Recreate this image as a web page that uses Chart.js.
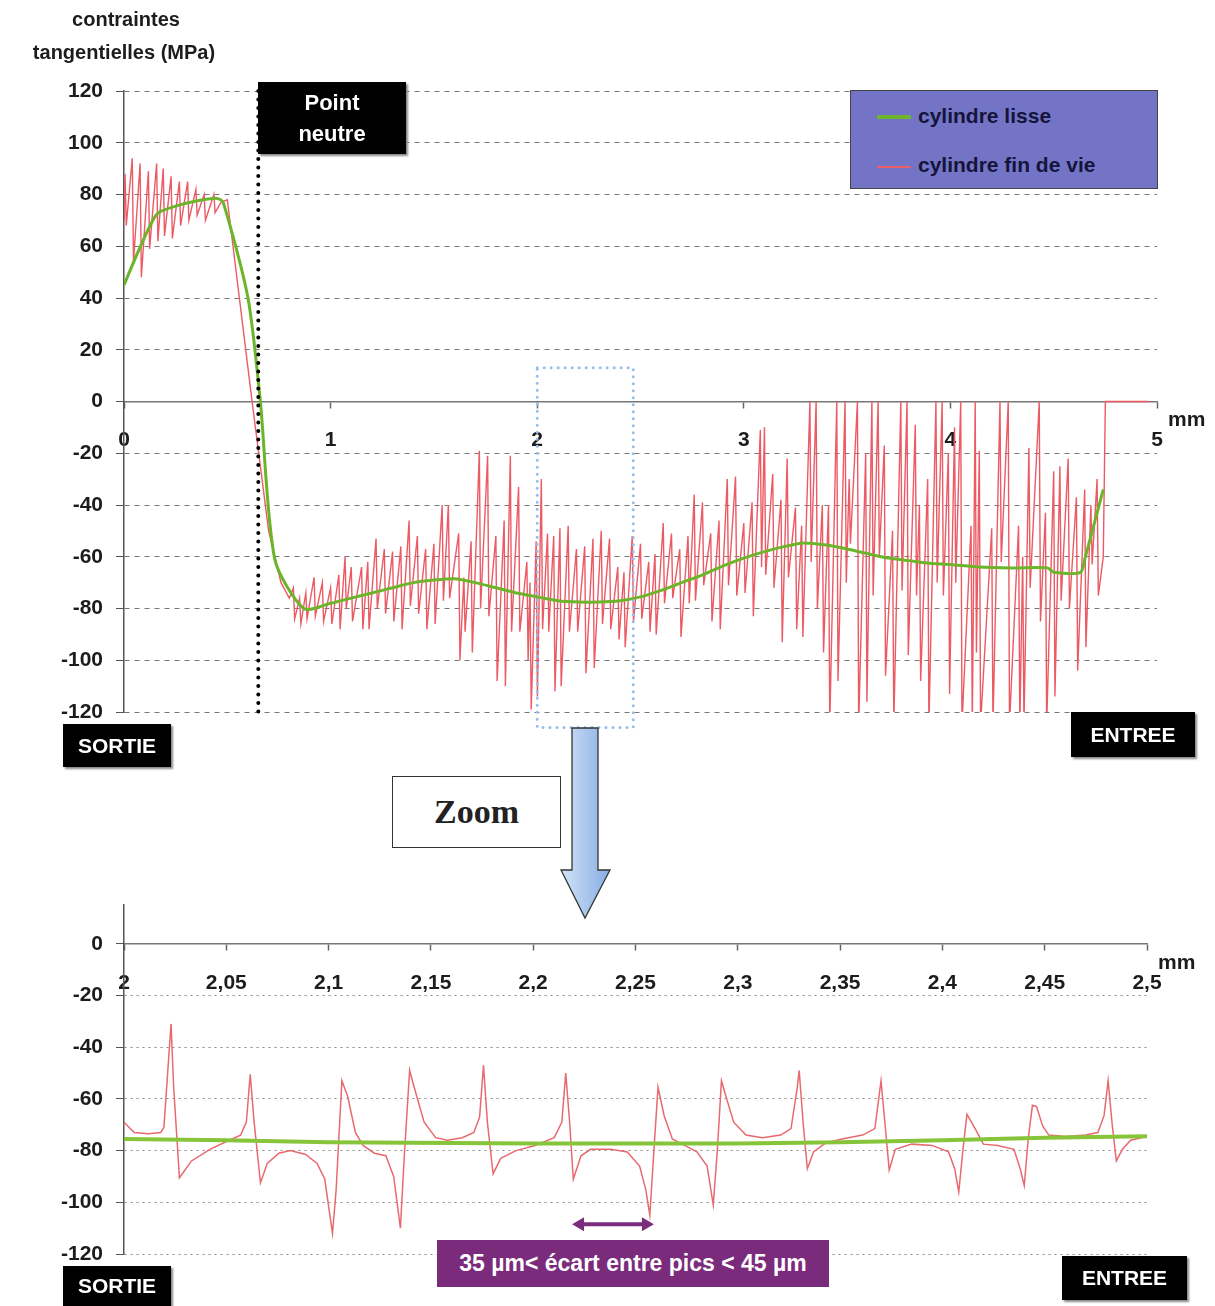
<!DOCTYPE html>
<html lang="fr">
<head>
<meta charset="utf-8">
<title>Contraintes tangentielles</title>
<script src="https://cdn.jsdelivr.net/npm/chart.js@4.4.1/dist/chart.umd.min.js"></script>
<style>
  html, body { margin: 0; padding: 0; background: #fff; }
  body { width: 1215px; height: 1306px; position: relative; overflow: hidden; font-family: "Liberation Sans", Arial, sans-serif; }
  canvas { position: absolute; left: 0; }
  #haut { top: 0; }
  #bas { top: 860px; }
  .txt { position: absolute; font-weight: bold; color: #1c1c1c; white-space: nowrap; }
  .boite { position: absolute; background: #000; color: #fff; font-weight: bold; display: flex; align-items: center; justify-content: center; text-align: center; box-shadow: 2px 2px 2px #888; }
  #legende { position: absolute; left: 850px; top: 90px; width: 306px; height: 97px; background: #7474c6; border: 1px solid #444; }
  #legende .ligne { position: absolute; left: 26px; width: 34px; }
  #legende span { position: absolute; left: 67px; font-size: 21px; font-weight: bold; color: #14143a; }
</style>
</head>
<body>
<canvas id="haut" width="1215" height="780"></canvas>
<canvas id="bas" width="1215" height="446"></canvas>

<div class="txt" style="left:26px;top:8px;width:200px;text-align:center;font-size:20px;">contraintes</div>
<div class="txt" style="left:0;top:41px;width:248px;text-align:center;font-size:20px;">tangentielles (MPa)</div>
<div class="txt" style="left:1168px;top:407px;font-size:21px;">mm</div>
<div class="txt" style="left:1158px;top:950px;font-size:21px;">mm</div>

<div class="boite" style="left:258px;top:82px;width:148px;height:72px;font-size:22px;line-height:31px;">Point<br>neutre</div>
<div class="boite" style="left:63px;top:724px;width:108px;height:43px;font-size:21px;">SORTIE</div>
<div class="boite" style="left:1071px;top:712px;width:124px;height:45px;font-size:21px;">ENTREE</div>
<div class="boite" style="left:63px;top:1266px;width:108px;height:40px;font-size:21px;">SORTIE</div>
<div class="boite" style="left:1062px;top:1256px;width:125px;height:44px;font-size:21px;">ENTREE</div>
<div class="boite" style="left:437px;top:1240px;width:392px;height:47px;background:#7a2b7c;font-family:'Liberation Sans Narrow','Liberation Sans',Arial,sans-serif;font-size:23px;box-shadow:none;">35 µm&lt; écart entre pics &lt; 45 µm</div>

<div style="position:absolute;left:392px;top:776px;width:167px;height:70px;border:1.5px solid #333;background:#fff;display:flex;align-items:center;justify-content:center;font-family:'Liberation Serif','DejaVu Serif',serif;font-weight:bold;font-size:34px;color:#222;">Zoom</div>

<svg style="position:absolute;left:555px;top:726px;" width="62" height="196">
  <defs>
    <linearGradient id="deg" x1="0" x2="1" y1="0" y2="0">
      <stop offset="0" stop-color="#d2e3f8"/>
      <stop offset="1" stop-color="#86ade2"/>
    </linearGradient>
  </defs>
  <polygon points="17,2 43,2 43,144 55,144 30,192 6,144 17,144" fill="url(#deg)" stroke="#333" stroke-width="1.3"/>
</svg>

<div id="legende">
  <div class="ligne" style="top:24px;height:4px;background:#6fb52c;"></div>
  <span style="top:13px;">cylindre lisse</span>
  <div class="ligne" style="top:75px;height:2px;background:#e8606a;"></div>
  <span style="top:62px;">cylindre fin de vie</span>
</div>

<script>
// ---- donnees du graphique principal (x en mm, contrainte en MPa) ----
const pointsLisse = [
  [0, 45], [0.08, 60], [0.16, 72.5], [0.25, 75.5], [0.35, 77.5], [0.45, 78.5], [0.48, 77],
  [0.6, 40], [0.66, 0], [0.73, -61], [0.87, -80], [1.0, -78], [1.1, -76], [1.2, -74],
  [1.3, -72], [1.4, -70], [1.5, -69], [1.6, -68.5], [1.7, -70], [1.8, -72], [1.9, -74],
  [2.0, -75.5], [2.1, -77], [2.2, -77.5], [2.3, -77.5], [2.4, -77], [2.5, -75.5],
  [2.6, -73], [2.7, -70], [2.8, -67], [2.9, -63.5], [3.0, -60.5], [3.1, -58], [3.2, -56],
  [3.29, -54.7], [3.4, -55.5], [3.5, -57], [3.61, -59], [3.7, -60.5], [3.8, -61.5],
  [3.9, -62.5], [4.0, -63], [4.14, -64], [4.3, -64.3], [4.47, -64.3], [4.5, -66],
  [4.63, -66], [4.65, -61], [4.74, -34]
];

const pointsFinVie = [
  [0.000, 70], [0.005, 88], [0.011, 68], [0.040, 94], [0.046, 54], [0.078, 92], [0.084, 48],
  [0.118, 89], [0.124, 59], [0.158, 92], [0.164, 62], [0.190, 90], [0.196, 64], [0.228, 87],
  [0.234, 63], [0.268, 85], [0.274, 68], [0.308, 85], [0.314, 70], [0.348, 82], [0.354, 72],
  [0.388, 80], [0.394, 70], [0.435, 80], [0.441, 73], [0.470, 77], [0.500, 78], [0.620, 0],
  [0.700, -50], [0.760, -70], [0.800, -76],
  [0.820, -72], [0.826, -84], [0.850, -76], [0.856, -86], [0.880, -74], [0.886, -84],
  [0.920, -68], [0.926, -83], [0.960, -70], [0.966, -85], [1.000, -72], [1.006, -86],
  [1.040, -67], [1.046, -88], [1.070, -60], [1.076, -80], [1.100, -64], [1.106, -85],
  [1.150, -64], [1.156, -88], [1.180, -62], [1.186, -88], [1.220, -53], [1.226, -80],
  [1.260, -57], [1.266, -82], [1.300, -58], [1.306, -85], [1.340, -56], [1.346, -88],
  [1.380, -46], [1.386, -79], [1.420, -52], [1.426, -82], [1.460, -57], [1.466, -88],
  [1.500, -55], [1.506, -86], [1.540, -40], [1.546, -77], [1.570, -40], [1.576, -76],
  [1.620, -51], [1.626, -100], [1.645, -68], [1.651, -89], [1.680, -54], [1.686, -97],
  [1.720, -19], [1.726, -80], [1.760, -21], [1.766, -83], [1.800, -52], [1.806, -108],
  [1.840, -46], [1.846, -110], [1.870, -21], [1.876, -89], [1.910, -33], [1.916, -89],
  [1.950, -62], [1.956, -100], [1.965, -70], [1.971, -119], [1.995, -54], [2.001, -114],
  [2.020, -30], [2.026, -88], [2.050, -51], [2.056, -89], [2.080, -52], [2.086, -112],
  [2.110, -49], [2.116, -110], [2.150, -48], [2.156, -89], [2.190, -57], [2.196, -89],
  [2.230, -56], [2.236, -105], [2.270, -53], [2.276, -103], [2.310, -50], [2.316, -86],
  [2.350, -53], [2.356, -88], [2.390, -64], [2.396, -92], [2.420, -66], [2.426, -95],
  [2.460, -52], [2.466, -85], [2.500, -55], [2.506, -84], [2.540, -62], [2.546, -89],
  [2.570, -59], [2.576, -90], [2.610, -47], [2.616, -78], [2.650, -51], [2.656, -76],
  [2.690, -57], [2.696, -91], [2.730, -52], [2.736, -78], [2.760, -36], [2.766, -77],
  [2.800, -39], [2.806, -71], [2.840, -51], [2.846, -85], [2.880, -46], [2.886, -88],
  [2.920, -30], [2.926, -71], [2.960, -29], [2.966, -75], [3.000, -47], [3.006, -74],
  [3.040, -39], [3.046, -83], [3.080, -11], [3.086, -64], [3.100, -10], [3.106, -67],
  [3.140, -28], [3.146, -72], [3.180, -38], [3.186, -93], [3.210, -22], [3.216, -68],
  [3.250, -41], [3.256, -88], [3.280, -48], [3.286, -91], [3.320, 0], [3.326, -62],
  [3.350, 0], [3.356, -80], [3.380, -40], [3.386, -97], [3.410, -40], [3.416, -125],
  [3.450, 0], [3.456, -108], [3.490, 0], [3.496, -70], [3.510, -30], [3.516, -55],
  [3.550, 0], [3.556, -125], [3.590, -20], [3.596, -116], [3.620, 0], [3.626, -75],
  [3.650, 0], [3.656, -60], [3.680, -17], [3.686, -106], [3.720, -50], [3.726, -125],
  [3.760, 0], [3.766, -73], [3.790, 0], [3.796, -98], [3.830, -9], [3.836, -75],
  [3.850, -40], [3.856, -108], [3.890, -30], [3.896, -125], [3.930, 0], [3.936, -70],
  [3.960, 0], [3.966, -75], [3.990, -20], [3.996, -113], [4.020, -10], [4.026, -70],
  [4.050, 0], [4.056, -125], [4.100, -48], [4.106, -125], [4.120, 0], [4.126, -97],
  [4.140, -19], [4.146, -125], [4.200, -49], [4.206, -125], [4.240, 0], [4.246, -62],
  [4.280, 0], [4.286, -125], [4.330, -48], [4.336, -125], [4.350, -60], [4.356, -125],
  [4.380, -18], [4.386, -72], [4.430, 0], [4.436, -85], [4.460, -43], [4.466, -125],
  [4.500, -27], [4.506, -114], [4.530, -25], [4.536, -77], [4.570, -22], [4.576, -80],
  [4.610, -37], [4.616, -104], [4.650, -34], [4.656, -95], [4.680, -40], [4.686, -63],
  [4.710, -30], [4.716, -75], [4.740, -60], [4.750, 0], [4.960, 0]
];

// ---- donnees du zoom (2 a 2,5 mm) ----
const zoomLisse = [
  [2.0, -75.5], [2.05, -76], [2.1, -76.8], [2.2, -77.3], [2.3, -77.3],
  [2.35, -76.8], [2.4, -76], [2.45, -75], [2.5, -74.5]
];

const zoomFinVie = [
  [2.000, -69], [2.005, -73], [2.012, -73.5], [2.018, -73], [2.0195, -71], [2.023, -31],
  [2.0243, -56], [2.0271, -90.5], [2.033, -84], [2.042, -79.5], [2.0514, -76], [2.057, -74],
  [2.0598, -69], [2.0617, -50.5], [2.0636, -69], [2.0667, -92.5], [2.070, -85], [2.0757, -81],
  [2.0813, -80], [2.0888, -81.5], [2.0944, -85], [2.0981, -91], [2.1019, -112], [2.1037, -95],
  [2.1065, -53], [2.1093, -59], [2.1131, -73], [2.1168, -78], [2.1224, -81], [2.128, -82],
  [2.1318, -90], [2.1351, -110], [2.137, -82], [2.1396, -49], [2.142, -56], [2.1467, -69],
  [2.1523, -75], [2.158, -76], [2.1654, -75], [2.171, -73], [2.1738, -67], [2.1757, -47],
  [2.1776, -69], [2.1804, -89], [2.1841, -83], [2.1916, -80], [2.2009, -78], [2.2103, -75],
  [2.214, -69], [2.2159, -50], [2.2178, -69], [2.2196, -91], [2.2234, -82], [2.228, -79.5],
  [2.238, -79.5], [2.246, -80.5], [2.252, -86], [2.255, -95], [2.257, -105], [2.259, -80],
  [2.261, -55.5], [2.264, -66.5], [2.268, -75.5], [2.274, -78], [2.28, -80.5], [2.285, -86],
  [2.288, -101], [2.290, -80], [2.292, -53], [2.294, -58.5], [2.298, -69], [2.304, -74],
  [2.312, -75], [2.321, -74], [2.326, -71.5], [2.329, -56], [2.330, -49], [2.332, -70],
  [2.334, -87], [2.337, -80.5], [2.343, -77], [2.351, -75.5], [2.361, -74], [2.367, -71.5],
  [2.370, -53], [2.372, -70], [2.374, -87.5], [2.377, -79.5], [2.385, -77.5], [2.395, -78],
  [2.403, -80.5], [2.406, -87], [2.408, -96], [2.410, -80], [2.412, -66], [2.416, -71.5],
  [2.420, -77.5], [2.427, -78], [2.435, -79.5], [2.438, -87], [2.440, -93.5], [2.442, -75],
  [2.444, -62.5], [2.446, -63], [2.449, -70.5], [2.452, -74], [2.460, -74.5], [2.470, -74],
  [2.476, -73], [2.479, -66.5], [2.481, -53], [2.483, -70], [2.485, -84], [2.488, -79.5],
  [2.492, -76], [2.500, -74.5]
];

// annotations (en unites des axes)
const pointNeutre = 0.65;
const cadreZoom = { x1: 2.0, x2: 2.465, yHaut: 13, yBas: -126 };
const ecartPics = { x1: 2.219, x2: 2.259, y: -108.5 };

const rouge = '#ec5a64';
const vert = '#6cb52a';
const policeTicks = { family: "'Liberation Sans', Arial, sans-serif", size: 21, weight: 'bold' };

const toXY = pts => pts.map(([x, y]) => ({ x, y }));

const decorHaut = {
  id: 'decorHaut',
  afterDatasetsDraw(chart) {
    const { ctx, scales: { x, y } } = chart;
    ctx.save();
    // ligne du point neutre
    const xn = x.getPixelForValue(pointNeutre);
    ctx.strokeStyle = '#000';
    ctx.lineWidth = 4;
    ctx.lineCap = 'round';
    ctx.setLineDash([0, 8.5]);
    ctx.beginPath();
    ctx.moveTo(xn, y.getPixelForValue(120));
    ctx.lineTo(xn, y.getPixelForValue(-120));
    ctx.stroke();
    // cadre pointille bleu de la zone zoomee
    ctx.strokeStyle = '#92bdec';
    ctx.lineWidth = 3;
    ctx.setLineDash([0, 7]);
    const x1 = x.getPixelForValue(cadreZoom.x1), x2 = x.getPixelForValue(cadreZoom.x2);
    const y1 = y.getPixelForValue(cadreZoom.yHaut), y2 = y.getPixelForValue(cadreZoom.yBas);
    ctx.strokeRect(x1, y1, x2 - x1, y2 - y1);
    ctx.restore();
  }
};

const decorBas = {
  id: 'decorBas',
  afterDatasetsDraw(chart) {
    const { ctx, scales: { x, y } } = chart;
    const a = x.getPixelForValue(ecartPics.x1), b = x.getPixelForValue(ecartPics.x2);
    const py = y.getPixelForValue(ecartPics.y);
    ctx.save();
    ctx.strokeStyle = '#7b2d7d';
    ctx.fillStyle = '#7b2d7d';
    ctx.lineWidth = 4;
    ctx.beginPath();
    ctx.moveTo(a + 8, py);
    ctx.lineTo(b - 8, py);
    ctx.stroke();
    ctx.beginPath();
    ctx.moveTo(a, py); ctx.lineTo(a + 12, py - 7); ctx.lineTo(a + 12, py + 7); ctx.closePath();
    ctx.moveTo(b, py); ctx.lineTo(b - 12, py - 7); ctx.lineTo(b - 12, py + 7); ctx.closePath();
    ctx.fill();
    ctx.restore();
  }
};

function axeX(min, max, pas, format, pad) {
  return {
    type: 'linear',
    min: min, max: max,
    position: { y: 0 },
    grid: { drawOnChartArea: false, drawTicks: true, tickLength: 6, color: '#666', tickWidth: 1.5 },
    border: { display: true, color: '#777', width: 1.5 },
    ticks: { stepSize: pas, color: '#1c1c1c', font: policeTicks, padding: pad, maxRotation: 0, autoSkip: false, callback: format },
    afterFit(scale) { scale.paddingLeft = 0; scale.paddingRight = 0; }
  };
}

// en v4, border.dash regle le pointille des lignes de grille
function axeY(min, max, pointille, couleur) {
  return {
    min: min, max: max,
    grid: { color: couleur, lineWidth: 1, tickLength: 8, tickColor: '#555' },
    border: { display: true, color: '#555', width: 1.5, dash: pointille },
    ticks: { stepSize: 20, color: '#1c1c1c', font: policeTicks, padding: 13 },
    afterBuildTicks(scale) { scale.ticks = scale.ticks.filter(t => t.value % 20 === 0); },
    afterFit(scale) { scale.width = 124; }
  };
}

new Chart(document.getElementById('haut'), {
  type: 'line',
  data: {
    datasets: [
      { label: 'cylindre lisse', data: toXY(pointsLisse), borderColor: vert, borderWidth: 3, pointRadius: 0, tension: 0.25 },
      { label: 'cylindre fin de vie', data: toXY(pointsFinVie), borderColor: rouge, borderWidth: 1.4, pointRadius: 0, tension: 0 }
    ]
  },
  options: {
    responsive: false,
    animation: false,
    devicePixelRatio: 1,
    layout: { padding: { top: 91, right: 58, bottom: 68, left: 0 } },
    plugins: { legend: { display: false }, tooltip: { enabled: false } },
    scales: {
      x: axeX(0, 5, 1, v => String(v), 20),
      y: axeY(-120, 120, [5, 5], '#777')
    }
  },
  plugins: [decorHaut]
});

new Chart(document.getElementById('bas'), {
  type: 'line',
  data: {
    datasets: [
      { label: 'cylindre lisse', data: toXY(zoomLisse), borderColor: '#86c43a', borderWidth: 4, pointRadius: 0, tension: 0 },
      { label: 'cylindre fin de vie', data: toXY(zoomFinVie), borderColor: '#e86a6e', borderWidth: 1.5, pointRadius: 0, tension: 0 }
    ]
  },
  options: {
    responsive: false,
    animation: false,
    devicePixelRatio: 1,
    layout: { padding: { top: 45, right: 68, bottom: 52, left: 0 } },
    plugins: { legend: { display: false }, tooltip: { enabled: false } },
    scales: {
      x: axeX(2, 2.5, 0.05, v => String(Number(v.toFixed(2))).replace('.', ','), 21),
      y: axeY(-120, 15, [2, 4], '#888')
    }
  },
  plugins: [decorBas]
});
</script>
</body>
</html>
